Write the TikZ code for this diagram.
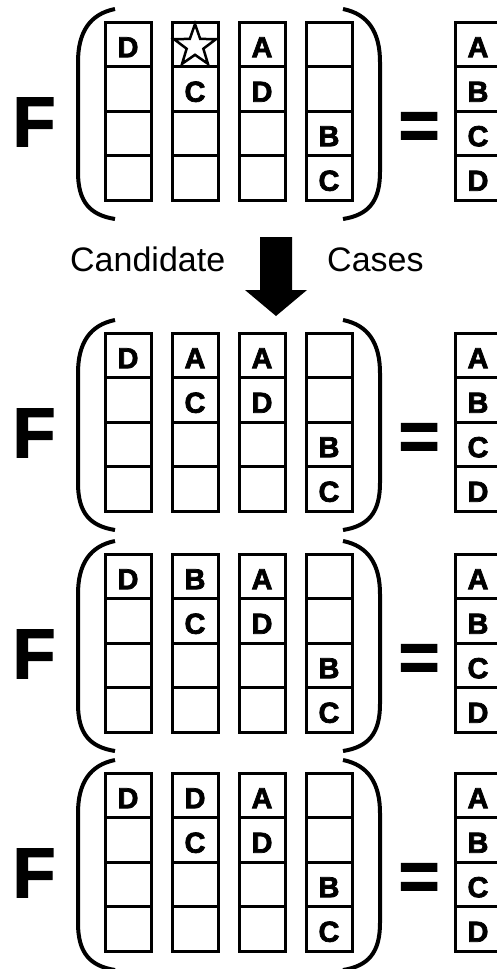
\documentclass[tikz,border=0pt]{standalone}
\usepackage{fontspec}
\setmainfont{Liberation Sans}
\newfontfamily\boldf[FakeBold=2.5]{Liberation Sans Bold}
\newfontfamily\heavyf[FakeBold=2]{Liberation Sans Bold}
\usetikzlibrary{shapes.geometric,calc}
\tikzset{
  cell/.style={draw, line width=3pt, minimum width=46pt, minimum height=44.5pt, inner sep=0pt, outer sep=0pt},
  let/.style={font=\boldf\fontsize{29}{29}\selectfont, inner sep=0pt, yshift=-3pt},
  bigf/.style={font=\heavyf\fontsize{70}{70}\selectfont, inner sep=0pt},
  paren/.style={line width=4pt},
  caption/.style={font=\fontsize{34}{34}\selectfont, inner sep=0pt, anchor=base west},
  starmark/.style={star, star points=5, star point ratio=2.5, draw, line width=2.5pt, minimum size=44pt, inner sep=0pt}
}
\newcommand\drawpanel[2]{%
  \foreach \c/\x in {1/128,2/195,3/262,4/329,5/478} {
    \foreach \r in {1,...,4} {
      \node[cell] (#1-\c-\r) at (\x, {#2+22.25+44.5*(\r-1)}) {};
    }
  }
  \node[let] (#1-t11) at (#1-1-1) {D};
  \node[let] (#1-t22) at (#1-2-2) {C};
  \node[let] (#1-t31) at (#1-3-1) {A};
  \node[let] (#1-t32) at (#1-3-2) {D};
  \node[let] (#1-t43) at (#1-4-3) {B};
  \node[let] (#1-t44) at (#1-4-4) {C};
  \node[let] (#1-t51) at (#1-5-1) {A};
  \node[let] (#1-t52) at (#1-5-2) {B};
  \node[let] (#1-t53) at (#1-5-3) {C};
  \node[let] (#1-t54) at (#1-5-4) {D};
  \draw[paren] (115,{#2-13}) .. controls (90,{#2-8}) and (78,{#2+10}) .. (78,{#2+40})
     -- (78,{#2+150}) .. controls (78,{#2+180}) and (90,{#2+193}) .. (115,{#2+197});
  \draw[paren] (343,{#2-13}) .. controls (368,{#2-8}) and (380,{#2+10}) .. (380,{#2+40})
     -- (380,{#2+150}) .. controls (380,{#2+180}) and (368,{#2+193}) .. (343,{#2+197});
  \node[bigf] (#1-F) at (34,{#2+100}) {F};
  \node[bigf, anchor=base] (#1-eq) at (419,{#2+127}) {=};
}
\begin{document}
\begin{tikzpicture}[x=1pt,y=-1pt]
\useasboundingbox (0,0) rectangle (497,969);
\clip (0,0) rectangle (497,969);
\fill[white] (0,0) rectangle (497,969);
\drawpanel{p1}{22}
\node[starmark] (p1-star) at (195,46) {};
\drawpanel{p2}{333}
\node[let] (p2-t21) at (p2-2-1) {A};
\drawpanel{p3}{554}
\node[let] (p3-t21) at (p3-2-1) {B};
\drawpanel{p4}{773}
\node[let] (p4-t21) at (p4-2-1) {D};
\node[caption] (cand) at (70,271) {Candidate};
\node[caption] (cases) at (327,271) {Cases};
\coordinate (arrtop) at (276,237);
\fill (260,237) -- (292,237) -- (292,290) -- (307,290) -- (276,316) -- (245,290) -- (260,290) -- cycle;
\end{tikzpicture}
\end{document}
